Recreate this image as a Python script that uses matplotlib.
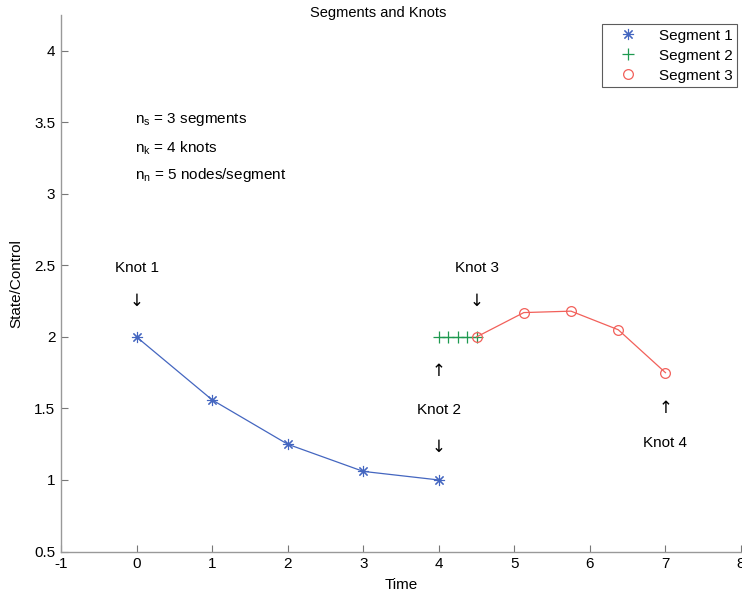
import numpy as np
import matplotlib
matplotlib.use("Agg")
import matplotlib.pyplot as plt

plt.rcParams['font.family'] = ['Liberation Sans', 'DejaVu Sans']

# segment data (time, state)
seg1_t = [0, 1, 2, 3, 4]
seg1_y = [2.0, 1.56, 1.25, 1.06, 1.0]
seg2_t = [4, 4.125, 4.25, 4.375, 4.5]
seg2_y = [2.0, 2.0, 2.0, 2.0, 2.0]
seg3_t = [4.5, 5.125, 5.75, 6.375, 7]
seg3_y = [2.0, 2.17, 2.18, 2.05, 1.75]

xticks = [-1, 0, 1, 2, 3, 4, 5, 6, 7, 8]
yticks = [0.5, 1, 1.5, 2, 2.5, 3, 3.5, 4]

c1 = '#4466c0'
c2 = '#1f9a50'
c3 = '#f2605a'

fig = plt.figure(figsize=(7.42, 5.95), dpi=100)
ax = fig.add_axes([0.0822, 0.0731, 0.9165, 0.9017])

asterisk = (8, 2, 0)
ax.plot(seg1_t, seg1_y, '-', color=c1, lw=0.9)
ax.plot(seg1_t, seg1_y, marker=asterisk, color=c1, ms=8, mew=0.8, ls='none', label='Segment 1')
ax.plot(seg2_t, seg2_y, '-', color=c2, lw=0.9)
ax.plot(seg2_t, seg2_y, '+', color=c2, ms=8, mew=0.9, ls='none', label='Segment 2')
ax.plot(seg3_t, seg3_y, '-', color=c3, lw=0.9)
ax.plot(seg3_t, seg3_y, 'o', color=c3, ms=7, mfc='none', mew=0.9, ls='none', label='Segment 3')

# notes
fs = 11
ax.text(-0.02, 3.52, r'n$_\mathregular{s}$ = 3 segments', fontsize=fs, va='center')
ax.text(-0.02, 3.32, r'n$_\mathregular{k}$ = 4 knots', fontsize=fs, va='center')
ax.text(-0.02, 3.13, r'n$_\mathregular{n}$ = 5 nodes/segment', fontsize=fs, va='center')

# knot labels
af = dict(fontsize=12, ha='center', va='center', family='DejaVu Sans')
ax.text(0, 2.48, 'Knot 1', fontsize=fs, ha='center', va='center')
ax.text(0, 2.25, '\u2193', **af)
ax.text(4.5, 2.48, 'Knot 3', fontsize=fs, ha='center', va='center')
ax.text(4.5, 2.25, '\u2193', **af)
ax.text(4, 1.76, '\u2191', **af)
ax.text(4, 1.49, 'Knot 2', fontsize=fs, ha='center', va='center')
ax.text(4, 1.23, '\u2193', **af)
ax.text(7, 1.5, '\u2191', **af)
ax.text(7, 1.26, 'Knot 4', fontsize=fs, ha='center', va='center')

ax.set_xlim(-1, 8)
ax.set_ylim(0.5, 4.25)
ax.set_xticks(xticks)
ax.set_yticks(yticks)
ax.set_xticklabels([str(v) for v in xticks])
ax.set_yticklabels([('%g' % v) for v in yticks])
ax.tick_params(direction='in', length=5, width=0.8, labelsize=11, color='#777777', pad=4)
for s in ['top', 'right']:
    ax.spines[s].set_visible(False)
for s in ['left', 'bottom']:
    ax.spines[s].set_color('#999999')
    ax.spines[s].set_linewidth(1.0)

ax.set_xlabel('Time', fontsize=11, labelpad=5)
ax.set_ylabel('State/Control', fontsize=11, labelpad=8)
fig.text(378 / 742, 1 - 13 / 595, 'Segments and Knots', fontsize=10.5, ha='center', va='center')

leg = ax.legend(loc='upper right', bbox_to_anchor=(737 / 742, 1 - 24 / 595),
                bbox_transform=fig.transFigure, fontsize=11, frameon=True,
                fancybox=False, edgecolor='#333333', handlelength=2.8,
                borderpad=0.3, labelspacing=0.4, handletextpad=0.6,
                borderaxespad=0)
leg.get_frame().set_linewidth(0.8)

fig.savefig('out.png', dpi=100)
